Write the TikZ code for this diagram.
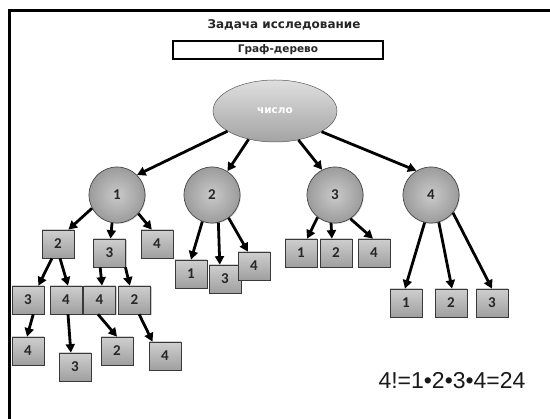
\documentclass[tikz,border=0pt]{standalone}
\usepackage{fontspec}
\setmainfont{DejaVu Sans}
\newfontfamily\numfont{Carlito}
\newfontfamily\formulafont{Liberation Sans}
\usetikzlibrary{shapes.geometric,arrows.meta,shadows}

\tikzset{
  frame/.style={line width=2.2pt, draw=black},
  heading/.style={font=\bfseries\fontsize{12}{13}\selectfont, text=black!85, inner sep=0pt},
  namebox/.style={draw=black, line width=1.4pt, minimum width=210pt, minimum height=18pt,
    inner sep=0pt, font=\bfseries\fontsize{10.5}{12}\selectfont, text=black!85},
  rootnode/.style={ellipse, minimum width=124pt, minimum height=62pt, inner sep=0pt,
    draw=gray!70!black, line width=0.5pt, top color=gray!25, bottom color=gray!72,
    font=\bfseries\fontsize{10.5}{11}\selectfont, text=white},
  numcircle/.style={circle, minimum size=56pt, inner sep=0pt,
    draw=gray!55!black, line width=0.7pt, inner color=gray!42, outer color=gray!78,
    font=\numfont\bfseries\fontsize{15}{15}\selectfont, text=black!85,
    drop shadow={shadow xshift=0.8pt, shadow yshift=-0.8pt, opacity=0.35}},
  numbox/.style={rectangle, minimum width=32pt, minimum height=28pt, inner sep=0pt,
    draw=gray!45!black, line width=0.7pt, top color=gray!38, bottom color=gray!75,
    font=\numfont\bfseries\fontsize{15}{15}\selectfont, text=black!85,
    drop shadow={shadow xshift=1pt, shadow yshift=-1pt, opacity=0.4}},
  link/.style={line width=2.8pt, draw=black, -{Triangle[length=8.5pt,width=9pt]}},
  formula/.style={font=\formulafont\fontsize{23}{25}\selectfont, text=black!90, inner sep=0pt},
}

\begin{document}
\begin{tikzpicture}[x=1pt,y=-1pt]
\useasboundingbox (0,0) rectangle (550,419);
\fill[white] (0,0) rectangle (550,419);
\draw[frame] (9.5,419) -- (9.5,10.5) -- (550,10.5);

% headings
\node[heading] (title) at (284,25) {Задача исследование};
\node[namebox] (kind) at (278,50) {Граф-дерево};

% root of the tree
\node[rootnode] (root) at (275,111) {число};

% first level: circles
\node[numcircle] (c1) at (117,195) {1};
\node[numcircle] (c2) at (212,195) {2};
\node[numcircle] (c3) at (335,195) {3};
\node[numcircle] (c4) at (431,195) {4};

% branch 1
\node[numbox] (b1a) at (58,244) {2};
\node[numbox] (b1b) at (109.5,253) {3};
\node[numbox] (b1c) at (157,244) {4};
\node[numbox] (d1) at (28,300) {3};
\node[numbox] (d2) at (66,300) {4};
\node[numbox] (d3) at (99.5,300) {4};
\node[numbox] (d4) at (134.5,300) {2};
\node[numbox] (f1) at (28,351) {4};
\node[numbox] (f2) at (75,367) {3};
\node[numbox] (f3) at (117,351) {2};
\node[numbox] (f4) at (165,356) {4};

% branch 2
\node[numbox] (b2a) at (191,274) {1};
\node[numbox] (b2b) at (225,279) {3};
\node[numbox] (b2c) at (254,266) {4};

% branch 3
\node[numbox] (b3a) at (301,253) {1};
\node[numbox] (b3b) at (336,253) {2};
\node[numbox] (b3c) at (374,253) {4};

% branch 4
\node[numbox] (b4a) at (406,303) {1};
\node[numbox] (b4b) at (451,303) {2};
\node[numbox] (b4c) at (492,303) {3};

% connectors
\draw[link] (root.203) -- (c1.45);
\draw[link] (root.227) -- (c2.57);
\draw[link] (root.309) -- (c3.117);
\draw[link] (root.336) -- (c4.121);

\draw[link] (c1.208) -- (b1a.54);
\draw[link] (c1.260) -- (b1b.86);
\draw[link] (c1.319) -- (b1c.110);

\draw[link] (b1a.247) -- (d1.54);
\draw[link] (b1a.278) -- (d2.82);
\draw[link] (b1b.237) -- (d3.80);
\draw[link] (b1b.318) -- (d4.108);

\draw[link] (d1.290) -- (f1.94);
\draw[link] (d2.278) -- (f2.106);
\draw[link] (d3.264) -- (f3.north);
\draw[link] (d4.288) -- (f4.131);

\draw[link] (c2.250) -- (b2a.north);
\draw[link] (c2.283) -- (b2b.110);
\draw[link] (c2.306) -- (b2c.113);

\draw[link] (c3.232) -- (b3a.67);
\draw[link] (c3.262) -- (b3b.106);
\draw[link] (c3.303) -- (b3c.94);

\draw[link] (c4.257) -- (b4a.94);
\draw[link] (c4.286) -- (b4b.86);
\draw[link] (c4.321) -- (b4c.north);

% the count
\node[formula] (count) at (452,381) {4!=1•2•3•4=24};
\end{tikzpicture}
\end{document}
